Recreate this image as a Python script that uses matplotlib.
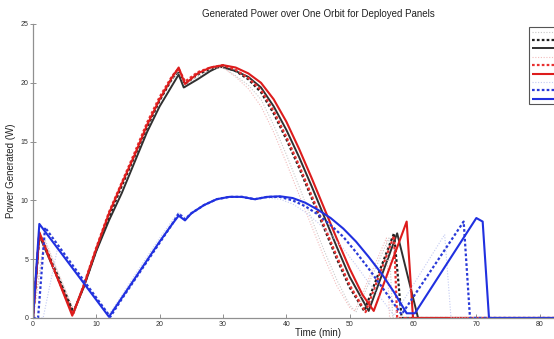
import matplotlib.pyplot as plt

plt.rcParams['font.family'] = ['Liberation Sans', 'DejaVu Sans']

# --- dados (tempo em min, potência em W) ---
t_k_min = [0, 1.8, 6.5, 8, 10, 12, 14, 16, 18, 20, 22, 23, 24, 26, 28, 30, 32, 34, 36, 38, 40, 42, 44, 46, 48, 50, 51, 56.2, 56.8, 90]
p_k_min = [0, 6.8, 0.4, 2.8, 5.9, 8.8, 11.3, 13.7, 16.3, 18.5, 20.2, 20.9, 19.6, 20.5, 21.1, 21.3, 20.6, 19.8, 18.6, 16.4, 13.9, 11.2, 8.4, 5.7, 3.2, 1.1, 0.5, 6.8, 0, 0]

t_k_nom = [0, 1, 6.4, 8, 10, 12, 14, 16, 18, 20, 22, 23, 24, 26, 28, 30, 32, 34, 36, 38, 40, 42, 44, 46, 48, 50, 52.3, 57, 58.2, 90]
p_k_nom = [0, 7.2, 0.5, 2.7, 5.8, 8.6, 11.2, 13.7, 16.2, 18.5, 20.4, 21.0, 19.9, 20.7, 21.2, 21.4, 21.0, 20.3, 19.2, 17.4, 15.2, 12.8, 10.2, 7.6, 5.0, 2.6, 0.6, 7.2, 0, 0]

t_k_max = [0, 1, 6.3, 8, 10, 12, 14, 16, 18, 20, 22, 23, 23.8, 26, 28, 29.5, 32, 34, 36, 38, 40, 42, 44, 46, 48, 50, 53, 57.5, 60.8, 90]
p_k_max = [0, 7.0, 0.4, 2.6, 5.7, 8.3, 10.6, 13.2, 15.8, 18.0, 19.8, 20.7, 19.6, 20.3, 21.0, 21.4, 21.0, 20.5, 19.6, 18.0, 16.0, 13.7, 11.2, 8.6, 6.0, 3.5, 0.6, 7.2, 0, 0]

t_r_min = [0, 1.8, 6.6, 8, 10, 12, 14, 16, 18, 20, 22, 23, 24, 26, 28, 30, 32, 34, 36, 38, 40, 42, 44, 46, 48, 50, 50.8, 55.8, 56.3, 90]
p_r_min = [0, 6.6, 0.5, 2.9, 6.0, 9.0, 11.5, 13.9, 16.5, 18.7, 20.4, 21.0, 19.8, 20.7, 21.2, 21.3, 20.5, 19.5, 18.0, 15.8, 13.2, 10.5, 7.8, 5.1, 2.7, 0.9, 0.6, 6.8, 0, 0]

t_r_nom = [0, 1, 6.3, 8, 10, 12, 14, 16, 18, 20, 22, 23, 24, 26, 28, 30, 32, 34, 36, 38, 40, 42, 44, 46, 48, 50, 52.5, 57, 57.5, 90]
p_r_nom = [0, 7.1, 0.3, 2.8, 6.0, 9.0, 11.5, 14.0, 16.6, 18.8, 20.6, 21.2, 20.1, 20.9, 21.3, 21.5, 21.1, 20.4, 19.4, 17.6, 15.4, 13.0, 10.4, 7.8, 5.2, 2.8, 0.5, 7.0, 0, 0]

t_r_max = [0, 1, 6.2, 8, 10, 12, 14, 16, 18, 20, 22, 23, 24, 26, 28, 30, 32, 34, 36, 38, 40, 42, 44, 46, 48, 50, 52, 53.8, 59, 60, 90]
p_r_max = [0, 7.3, 0.2, 2.7, 5.9, 8.9, 11.4, 13.8, 16.4, 18.6, 20.5, 21.3, 19.9, 20.8, 21.3, 21.5, 21.3, 20.8, 20.0, 18.6, 16.7, 14.4, 11.9, 9.3, 6.7, 4.2, 2.0, 0.6, 8.2, 0, 0]

t_b_min = [0, 1.6, 3.9, 12.0, 14, 16, 18, 20, 22, 23, 24, 25, 27, 29, 31, 33, 35, 37, 39, 41, 43, 45, 47, 49, 51, 53, 54.5, 57, 65, 66, 90]
p_b_min = [0, 0, 6.0, 0.3, 1.9, 3.6, 5.2, 6.8, 8.3, 9.0, 8.5, 9.0, 9.6, 10.1, 10.3, 10.3, 10.1, 10.2, 10.1, 9.7, 9.0, 8.1, 7.1, 5.9, 4.5, 3.0, 2.0, 0.2, 7.1, 0, 0]

t_b_nom = [0, 0.8, 1.9, 12.2, 14, 16, 18, 20, 22, 23, 24, 25, 27, 29, 31, 33, 35, 37, 39, 41, 43, 45, 47, 49, 51, 53, 55, 58.2, 68, 69, 90]
p_b_nom = [0, 0, 7.7, 0.1, 1.6, 3.2, 4.8, 6.4, 8.0, 8.9, 8.4, 8.9, 9.6, 10.1, 10.3, 10.3, 10.1, 10.3, 10.3, 10.0, 9.5, 8.8, 7.9, 6.9, 5.6, 4.2, 2.7, 0.3, 8.2, 0, 0]

t_b_max = [0, 1, 12, 14, 16, 18, 20, 22, 23, 24, 25, 27, 29, 31, 33, 35, 37, 39, 41, 43, 45, 47, 49, 51, 53, 55, 57, 59, 60.3, 70, 71, 72, 90]
p_b_max = [0, 8.0, 0.1, 1.7, 3.3, 4.9, 6.5, 8.0, 8.7, 8.3, 8.9, 9.6, 10.1, 10.3, 10.3, 10.1, 10.3, 10.35, 10.2, 9.8, 9.2, 8.5, 7.6, 6.5, 5.2, 3.8, 2.2, 0.4, 0.4, 8.5, 8.2, 0, 0]

rotulos = ['Body-mounted, min', 'Body-mounted, nominal', 'Body-mounted, max',
           'Single deployed, min', 'Single deployed, nominal', 'Single deployed, max',
           'Double deployed, min', 'Double deployed, nominal', 'Double deployed, max']

series = [(t_k_min, p_k_min), (t_k_nom, p_k_nom), (t_k_max, p_k_max),
          (t_r_min, p_r_min), (t_r_nom, p_r_nom), (t_r_max, p_r_max),
          (t_b_min, p_b_min), (t_b_nom, p_b_nom), (t_b_max, p_b_max)]

estilos = [
    dict(color='#c8c8c8', ls=(0, (1, 1.5)), lw=0.8),
    dict(color='#202020', ls=(0, (1.2, 1.0)), lw=1.6),
    dict(color='#303030', ls='-', lw=1.4),
    dict(color='#f2bcbc', ls=(0, (1, 1.5)), lw=0.8),
    dict(color='#e83030', ls=(0, (1.2, 1.0)), lw=1.6),
    dict(color='#dd1c1c', ls='-', lw=1.5),
    dict(color='#c4cbf2', ls=(0, (1, 1.5)), lw=0.8),
    dict(color='#2a3ad8', ls=(0, (1.2, 1.0)), lw=1.6),
    dict(color='#2030e0', ls='-', lw=1.5),
]

fig = plt.figure(figsize=(5.54, 3.39), dpi=100)
ax = fig.add_axes([33 / 554, 21 / 339, 570 / 554, 294 / 339])

for (t, p), st, lab in zip(series, estilos, rotulos):
    ax.plot(t, p, label=lab, solid_capstyle='butt', dash_capstyle='butt', **st)

ax.set_xlim(0, 90)
ax.set_ylim(0, 25)
ax.set_xticks(range(0, 91, 10))
ax.set_yticks(range(0, 26, 5))
for s in ['top', 'right']:
    ax.spines[s].set_visible(False)
for s in ['left', 'bottom']:
    ax.spines[s].set_color('#909090')
    ax.spines[s].set_linewidth(0.9)
ax.tick_params(labelsize=5, colors='#909090', labelcolor='#333333', width=0.7)
ax.tick_params(axis='x', direction='in', length=3, pad=2)
ax.tick_params(axis='y', direction='inout', length=4, pad=1.5)

ax.set_title('Generated Power over One Orbit for Deployed Panels', fontsize=7, pad=5, color='#222222')
ax.set_xlabel('Time (min)', fontsize=7, labelpad=0.5, color='#222222')
ax.set_ylabel('Power Generated (W)', fontsize=7, labelpad=3, color='#222222')

# legenda cortada na borda direita, como na figura original
leg = fig.legend(loc='upper left', bbox_to_anchor=(529 / 554, 1 - 27 / 339), fontsize=4.6,
                 handlelength=4.2, handletextpad=0.8, labelspacing=0.45, borderpad=0.4,
                 borderaxespad=0, fancybox=False, framealpha=1, edgecolor='#555555')
leg.get_frame().set_linewidth(0.8)

fig.savefig('out.png', dpi=100)
